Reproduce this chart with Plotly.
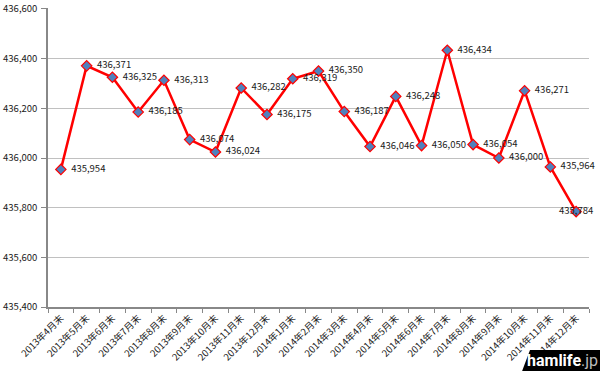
import plotly.graph_objects as go

categories = ["2013年4月末", "2013年5月末", "2013年6月末", "2013年7月末", "2013年8月末",
              "2013年9月末", "2013年10月末", "2013年11月末", "2013年12月末", "2014年1月末",
              "2014年2月末", "2014年3月末", "2014年4月末", "2014年5月末", "2014年6月末",
              "2014年7月末", "2014年8月末", "2014年9月末", "2014年10月末", "2014年11月末",
              "2014年12月末"]
values = [435954, 436371, 436325, 436185, 436313, 436074, 436024, 436282, 436175, 436319,
          436350, 436187, 436046, 436248, 436050, 436434, 436054, 436000, 436271, 435964,
          435784]
y_ticks = [435400, 435600, 435800, 436000, 436200, 436400, 436600]

positions = ["middle right"] * (len(values) - 1) + ["middle center"]
labels = ["  " + f"{v:,}" for v in values[:-1]] + [f"{values[-1]:,}"]

fig = go.Figure()
fig.add_trace(go.Scatter(
    x=categories, y=values,
    mode="lines+markers+text",
    line=dict(color="#ff0000", width=2.5),
    marker=dict(symbol="diamond", size=8, color="#4f81bd",
                line=dict(color="#ff0000", width=1.2)),
    text=labels,
    textposition=positions,
    textfont=dict(family="Noto Sans CJK JP", size=9.5, color="#1a1a1a"),
    cliponaxis=False,
    showlegend=False,
    hoverinfo="skip",
))

fig.update_layout(
    width=600, height=371,
    margin=dict(l=48, r=11, t=8, b=64, autoexpand=False),
    paper_bgcolor="white", plot_bgcolor="white",
    font=dict(family="Noto Sans CJK JP", size=9, color="#1a1a1a"),
    xaxis=dict(
        type="category", tickangle=-45, tickson="boundaries",
        ticks="outside", ticklen=4, tickcolor="#888888",
        showline=True, linecolor="#888888", linewidth=1.5,
        showgrid=False, tickfont=dict(size=9.5), automargin=False,
        range=[-0.5, len(categories) - 0.5],
    ),
    yaxis=dict(
        range=[435400, 436604], tickvals=y_ticks,
        ticktext=[f"{v:,}" for v in y_ticks],
        showline=True, linecolor="#888888", linewidth=1.5,
        showgrid=True, gridcolor="#c0c0c0", gridwidth=1,
        ticks="outside", ticklen=5, tickcolor="#888888", ticklabelstandoff=2,
        ticklabeloverflow="allow",
        tickfont=dict(size=9.5), zeroline=False, automargin=False,
    ),
)

# watermark (decoration)
fig.add_shape(type="path", xref="paper", yref="paper",
              path="M 0.876 -0.216 L 1.03 -0.216 L 1.03 -0.144 L 0.891 -0.144 Z",
              fillcolor="black", line=dict(width=0), layer="above")
fig.add_annotation(xref="paper", yref="paper", x=1.02, y=-0.18, xanchor="right", yanchor="middle",
                   showarrow=False,
                   text="<b>hamlife</b><span style='color:#bbbbbb'>.jp</span>",
                   font=dict(family="Roboto", size=16, color="white"))

fig.write_html("out.html",
               config={"displayModeBar": False},
               post_script="document.body.style.margin='0';document.body.style.overflow='hidden';")
